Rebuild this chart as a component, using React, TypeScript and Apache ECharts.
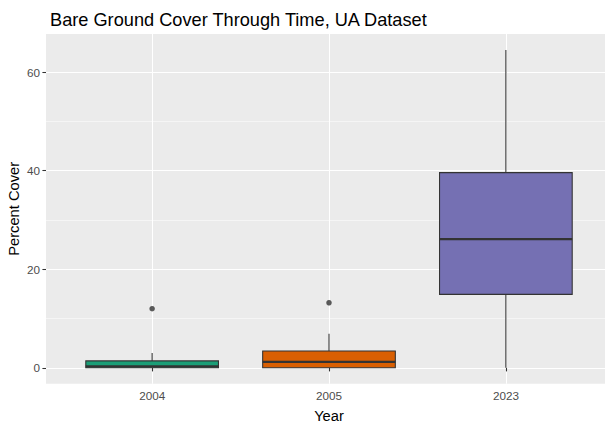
import React, { useEffect, useRef } from "react";
import * as echarts from "echarts";

// ---- data ----
const years = ["2004", "2005", "2023"];
const whiskerLow = [0, 0, 0];
const lowerQuartile = [0, 0, 14.9];
const medianValue = [0.3, 1.2, 26.1];
const upperQuartile = [1.4, 3.4, 39.6];
const whiskerHigh = [3.0, 6.9, 64.5];
const outlierYears = ["2004", "2005"];
const outlierValues = [12.0, 13.2];
const yTickValues = [0, 20, 40, 60];

const boxFills = ["#1B9E77", "#D95F02", "#7570B3"];
const FONT = "'Liberation Sans', Arial, sans-serif";

export default function App() {
  const ref = useRef<HTMLDivElement>(null);

  useEffect(() => {
    if (!ref.current) return;
    const chart = echarts.init(ref.current, null, { renderer: "svg" });

    const xPositions = years.map((_, i) => i + 1);
    const boxData = years.map((_, i) => [
      xPositions[i],
      whiskerLow[i],
      lowerQuartile[i],
      medianValue[i],
      upperQuartile[i],
      whiskerHigh[i],
    ]);
    const outlierData = outlierYears.map((y, k) => [
      years.indexOf(y) + 1,
      outlierValues[k],
    ]);

    const yLo = 0 - 0.05 * (64.5 - 0);
    const yHi = 64.5 + 0.05 * (64.5 - 0);

    const option: any = {
      animation: false,
      backgroundColor: "#FFFFFF",
      title: {
        text: "Bare Ground Cover Through Time, UA Dataset",
        left: 45,
        top: 6,
        textStyle: {
          fontFamily: FONT,
          fontSize: 18.2,
          fontWeight: "normal",
          color: "#000000",
        },
      },
      grid: {
        left: 46,
        top: 34,
        width: 566,
        height: 349.7,
        show: true,
        backgroundColor: "#EBEBEB",
        borderWidth: 0,
        containLabel: false,
        outerBoundsMode: "none",
      },
      xAxis: {
        type: "value",
        min: 0.4,
        max: 3.6,
        splitNumber: 3,
        axisLine: { show: false },
        axisTick: {
          show: true,
          length: 3.6,
          customValues: xPositions,
          lineStyle: { color: "#333333", width: 1.07 },
        },
        axisLabel: {
          customValues: xPositions,
          formatter: (v: number) => years[Math.round(v) - 1] ?? "",
          color: "#4D4D4D",
          fontFamily: FONT,
          fontSize: 11.7,
          margin: 6,
        },
        splitLine: { show: true, lineStyle: { color: "#FFFFFF", width: 1.07 } },
        name: "Year",
        nameLocation: "middle",
        nameGap: 25,
        nameMoveOverlap: false,
        nameTextStyle: { color: "#000000", fontFamily: FONT, fontSize: 14.7 },
      },
      yAxis: {
        type: "value",
        min: yLo,
        max: yHi,
        splitNumber: 4,
        axisLine: { show: false },
        axisTick: {
          show: true,
          length: 3.6,
          customValues: yTickValues,
          lineStyle: { color: "#333333", width: 1.07 },
        },
        axisLabel: {
          customValues: yTickValues,
          color: "#4D4D4D",
          fontFamily: FONT,
          fontSize: 11.7,
          margin: 6,
        },
        splitLine: { show: true, lineStyle: { color: "#FFFFFF", width: 1.07 } },
        minorTick: { show: false, splitNumber: 2 },
        minorSplitLine: { show: true, lineStyle: { color: "#FFFFFF", width: 0.53 } },
        name: "Percent Cover",
        nameLocation: "middle",
        nameGap: 25,
        nameMoveOverlap: false,
        nameTextStyle: { color: "#000000", fontFamily: FONT, fontSize: 14.7 },
      },
      series: [
        {
          type: "custom",
          data: boxData,
          encode: { x: 0, y: [1, 2, 3, 4, 5] },
          renderItem: (params: any, api: any) => {
            const x = api.value(0);
            const lo = api.coord([x, api.value(1)]);
            const b1 = api.coord([x, api.value(2)]);
            const md = api.coord([x, api.value(3)]);
            const b3 = api.coord([x, api.value(4)]);
            const hi = api.coord([x, api.value(5)]);
            const halfW = api.size([0.75, 0])[0] / 2;
            const stroke = "#333333";
            return {
              type: "group",
              children: [
                {
                  type: "line",
                  shape: { x1: lo[0], y1: lo[1], x2: b1[0], y2: b1[1] },
                  style: { stroke, lineWidth: 1.07 },
                },
                {
                  type: "line",
                  shape: { x1: b3[0], y1: b3[1], x2: hi[0], y2: hi[1] },
                  style: { stroke, lineWidth: 1.07 },
                },
                {
                  type: "rect",
                  shape: {
                    x: b3[0] - halfW,
                    y: b3[1],
                    width: 2 * halfW,
                    height: b1[1] - b3[1],
                  },
                  style: { fill: boxFills[params.dataIndex], stroke, lineWidth: 1.07 },
                },
                {
                  type: "line",
                  shape: { x1: md[0] - halfW, y1: md[1], x2: md[0] + halfW, y2: md[1] },
                  style: { stroke, lineWidth: 2.13 },
                },
              ],
            };
          },
        },
        {
          type: "scatter",
          data: outlierData,
          symbol: "circle",
          symbolSize: 5.5,
          itemStyle: { color: "#333333" },
        },
      ],
    };

    chart.setOption(option);
    return () => chart.dispose();
  }, []);

  return (
    <div
      ref={ref}
      style={{ position: "fixed", left: 0, top: 0, width: 605, height: 424, background: "#FFFFFF" }}
    />
  );
}
